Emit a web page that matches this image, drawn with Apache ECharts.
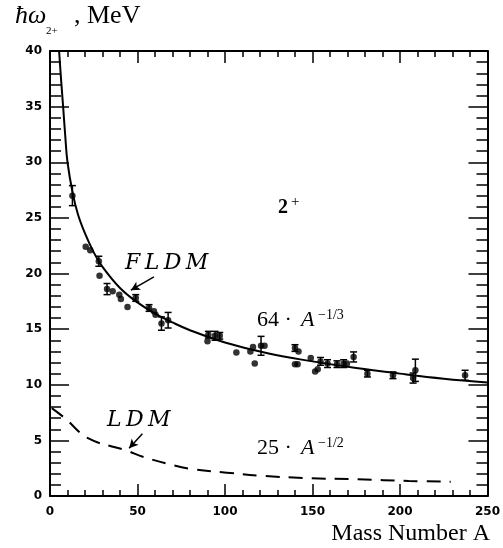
<!DOCTYPE html>
<html>
<head>
<meta charset="utf-8">
<script src="https://cdn.jsdelivr.net/npm/echarts@6/dist/echarts.min.js"></script>
<style>
html,body{margin:0;padding:0;background:#fff;}
#chart{width:503px;height:548px;}
</style>
</head>
<body>
<div id="chart"></div>
<script>
// ---- data ----
var xTicks = [0, 50, 100, 150, 200, 250];
var yTicks = [0, 5, 10, 15, 20, 25, 30, 35, 40];

// FLDM curve (64 * A^-1/3)
var fldmA = [5.2, 6.3, 7.5, 8.7, 10, 13, 16, 20, 25, 30, 40, 50, 60, 70, 80, 100, 125, 150, 175, 200, 225, 250];
var fldmE = [40, 37.5, 35, 32.4, 30, 27.2, 25.3, 23.6, 21.9, 20.6, 18.7, 17.4, 16.4, 15.6, 14.9, 13.8, 12.8, 12.1, 11.5, 11.0, 10.55, 10.2];

// LDM curve (dashed)
var ldmA = [1, 8.5, 21.7, 43.4, 53.7, 67, 82, 101, 120, 148, 176, 205, 229];
var ldmE = [7.9, 7.0, 5.2, 4.1, 3.5, 2.9, 2.4, 2.1, 1.83, 1.6, 1.5, 1.35, 1.29];

// experimental points: mass number, energy (MeV), error (0 = no bar)
var expA = [12.8, 20.4, 23, 27.9, 28.3, 32.6, 35.8, 39.6, 40.5, 44.3, 49, 56.6, 59.4, 60.3, 63.7, 67.5,
            90, 90.5, 94.3, 97, 106.5, 114.5, 116, 117, 120.6, 122.6, 140, 142, 140, 141.5, 149, 151.5, 153,
            154.6, 158.6, 164, 167.8, 169.7, 173.5, 181.4, 196, 207.5, 208.8, 237.2];
var expE = [27.0, 22.4, 22.1, 21.1, 19.8, 18.6, 18.4, 18.1, 17.7, 17.0, 17.8, 16.9, 16.6, 16.3, 15.5, 15.8,
            13.9, 14.5, 14.4, 14.4, 12.9, 13.0, 13.4, 11.9, 13.5, 13.5, 13.3, 13.0, 11.85, 11.85, 12.4, 11.2, 11.4,
            12.1, 11.9, 11.85, 11.9, 11.9, 12.5, 11.0, 10.85, 10.6, 11.3, 10.85];
var expErr = [0.9, 0, 0, 0.45, 0, 0.5, 0, 0, 0, 0, 0.3, 0.3, 0, 0, 0.6, 0.7,
              0, 0.3, 0.4, 0.3, 0, 0, 0, 0, 0.85, 0, 0.3, 0, 0, 0, 0, 0, 0,
              0.35, 0.35, 0.3, 0.35, 0, 0.45, 0.3, 0.3, 0.45, 1.0, 0.45];

// annotation arrows [fromA, fromE, toA, toE]
var fldmArrow = [59.4, 19.7, 46.2, 18.5];
var ldmArrow = [52.8, 5.6, 45.2, 4.3];

// ---- build ----
var fldmData = fldmA.map(function (a, i) { return [a, fldmE[i]]; });
var ldmData = ldmA.map(function (a, i) { return [a, ldmE[i]]; });
var expData = expA.map(function (a, i) { return [a, expE[i]]; });
var errData = [];
expA.forEach(function (a, i) { if (expErr[i] > 0) errData.push([a, expE[i], expErr[i]]); });

var chart = echarts.init(document.getElementById('chart'), null, {renderer: 'canvas'});

var tickFont = {color: '#000', fontFamily: 'DejaVu Sans', fontWeight: 'bold', fontSize: 12};
function xAxisCfg(pos, showLabel) {
  return {
    type: 'value', position: pos, min: xTicks[0], max: xTicks[xTicks.length - 1], interval: 50,
    axisLine: {show: true, onZero: false, lineStyle: {color: '#000', width: 2}},
    axisTick: {show: true, inside: true, length: 12, lineStyle: {color: '#000', width: 1.5}},
    minorTick: {show: true, splitNumber: 5, length: 6, lineStyle: {color: '#000', width: 1.5}},
    splitLine: {show: false},
    axisLabel: Object.assign({show: showLabel, margin: 10}, tickFont)
  };
}
function yAxisCfg(pos, showLabel) {
  return {
    type: 'value', position: pos, min: yTicks[0], max: yTicks[yTicks.length - 1], interval: 5,
    axisLine: {show: true, onZero: false, lineStyle: {color: '#000', width: 2}},
    axisTick: {show: true, inside: true, length: 19, lineStyle: {color: '#000', width: 1.5}},
    minorTick: {show: true, splitNumber: 5, length: 11, lineStyle: {color: '#000', width: 1.5}},
    splitLine: {show: false},
    axisLabel: Object.assign({show: showLabel, margin: 8}, tickFont)
  };
}

function arrowLine(arr) {
  return [{coord: [arr[0], arr[1]]}, {coord: [arr[2], arr[3]]}];
}

var serif = 'Liberation Serif';
var math = 'DejaVu Serif';

var option = {
  animation: false,
  backgroundColor: '#fff',
  grid: {left: 50, right: 11, top: 51, bottom: 52, containLabel: false},
  xAxis: [xAxisCfg('bottom', true), xAxisCfg('top', false)],
  yAxis: [yAxisCfg('left', true), yAxisCfg('right', false)],
  series: [
    {
      type: 'line', name: 'FLDM', data: fldmData, smooth: 0.4,
      showSymbol: false, symbol: 'none', lineStyle: {color: '#000', width: 2}, z: 2,
      markLine: {
        silent: true, symbol: ['none', 'arrow'], symbolSize: [7, 9],
        lineStyle: {color: '#000', width: 1.5, type: 'solid'}, label: {show: false},
        data: [arrowLine(fldmArrow), arrowLine(ldmArrow)]
      }
    },
    {
      type: 'line', name: 'LDM', data: ldmData, smooth: 0.4,
      showSymbol: false, symbol: 'none', lineStyle: {color: '#000', width: 2, type: [14, 9]}, z: 2
    },
    {
      type: 'custom', name: 'err', data: errData, z: 3,
      renderItem: function (params, api) {
        var x = api.value(0), y = api.value(1), e = api.value(2);
        var t = api.coord([x, y + e]), b = api.coord([x, y - e]);
        var w = 3.5, st = {stroke: '#000', lineWidth: 1.5};
        return {type: 'group', children: [
          {type: 'line', shape: {x1: t[0], y1: t[1], x2: b[0], y2: b[1]}, style: st},
          {type: 'line', shape: {x1: t[0] - w, y1: t[1], x2: t[0] + w, y2: t[1]}, style: st},
          {type: 'line', shape: {x1: b[0] - w, y1: b[1], x2: b[0] + w, y2: b[1]}, style: st}
        ]};
      }
    },
    {
      type: 'scatter', name: 'exp', data: expData, symbol: 'circle', symbolSize: 6.5,
      itemStyle: {color: '#000'}, z: 4
    }
  ],
  graphic: [
    {type: 'text', style: {text: '\u0127\u03C9', x: 15, y: 16, font: 'italic 26px "' + serif + '"', fill: '#000', textVerticalAlign: 'middle'}},
    {type: 'text', style: {text: '2+', x: 46, y: 31, font: '11px "' + serif + '"', fill: '#000', textVerticalAlign: 'middle'}},
    {type: 'text', style: {text: ', MeV', x: 74, y: 16, font: '26px "' + serif + '"', fill: '#000', textVerticalAlign: 'middle'}},
    {type: 'text', style: {text: 'Mass Number A', x: 490, y: 534, font: '24px "' + serif + '"', fill: '#000', textAlign: 'right', textVerticalAlign: 'middle'}},
    {type: 'text', style: {text: '2', x: 278, y: 208, font: 'bold 20px "' + serif + '"', fill: '#000', textVerticalAlign: 'middle'}},
    {type: 'text', style: {text: '+', x: 291, y: 202, font: '15px "' + serif + '"', fill: '#000', textVerticalAlign: 'middle'}},
    {type: 'text', style: {text: 'F\u2009L\u2009D\u2009M', x: 125, y: 263, font: 'italic 22px "' + math + '"', fill: '#000', textVerticalAlign: 'middle'}},
    {type: 'text', style: {text: 'L\u2009D\u2009M', x: 107, y: 420, font: 'italic 22px "' + math + '"', fill: '#000', textVerticalAlign: 'middle'}},
    {type: 'text', style: {text: '64 \u00B7 ', x: 257, y: 320, font: '22px "' + serif + '"', fill: '#000', textVerticalAlign: 'middle'}},
    {type: 'text', style: {text: 'A', x: 301, y: 320, font: 'italic 22px "' + serif + '"', fill: '#000', textVerticalAlign: 'middle'}},
    {type: 'text', style: {text: '\u22121/3', x: 318, y: 315, font: '14px "' + serif + '"', fill: '#000', textVerticalAlign: 'middle'}},
    {type: 'text', style: {text: '25 \u00B7 ', x: 257, y: 448, font: '22px "' + serif + '"', fill: '#000', textVerticalAlign: 'middle'}},
    {type: 'text', style: {text: 'A', x: 301, y: 448, font: 'italic 22px "' + serif + '"', fill: '#000', textVerticalAlign: 'middle'}},
    {type: 'text', style: {text: '\u22121/2', x: 318, y: 443, font: '14px "' + serif + '"', fill: '#000', textVerticalAlign: 'middle'}}
  ]
};
chart.setOption(option);
</script>
</body>
</html>
